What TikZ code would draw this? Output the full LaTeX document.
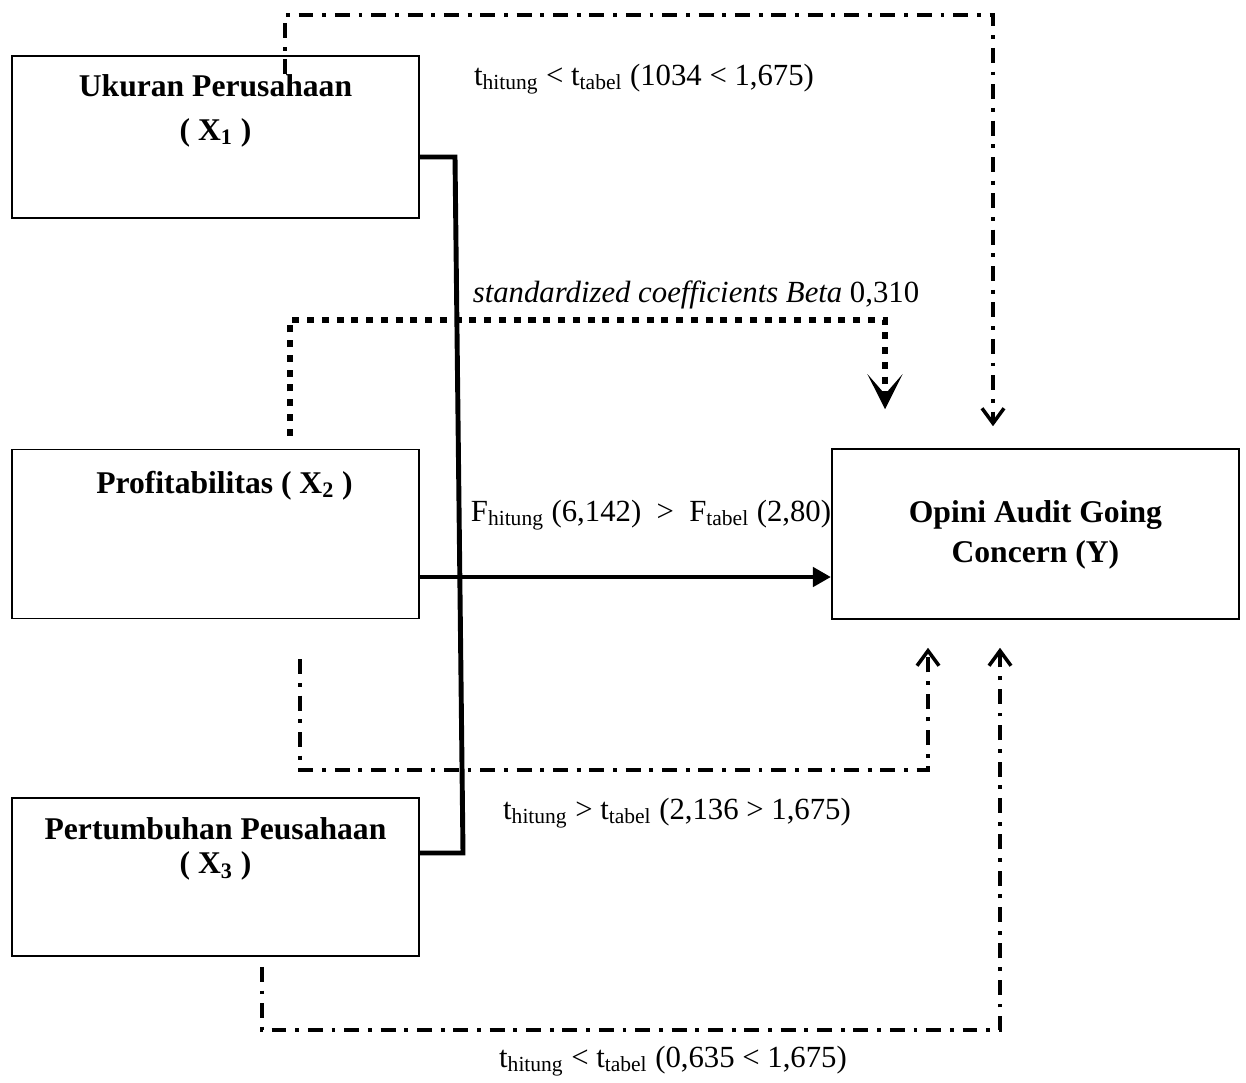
\documentclass[tikz,border=0pt]{standalone}
\usepackage{fontspec}
\setmainfont{Liberation Serif}
\usetikzlibrary{arrows.meta,positioning,calc}

\tikzset{
  varbox/.style={draw, line width=0.9pt, rectangle, minimum width=8.15cm, inner sep=0pt},
  boxtext/.style={font=\fontsize{18}{20.4}\selectfont\bfseries, align=center, inner sep=0pt},
  testlabel/.style={font=\fontsize{17.5}{20.4}\selectfont, inner sep=0pt, anchor=base},
  mainline/.style={line width=2.8pt},
  dashdot/.style={line width=2pt, dash pattern=on 8.5pt off 5pt on 2.2pt off 5pt,
    -{Straight Barb[length=0.3cm, width=0.44cm, line width=2pt]}},
  dotline/.style={line width=3.8pt, dash pattern=on 4pt off 4.4pt,
    -{Stealth[length=0.7cm, width=0.7cm, inset=0.4cm]}}
}

\begin{document}
\begin{tikzpicture}[x=0.02cm, y=-0.02cm]
  \useasboundingbox (0,0) rectangle (1246,1082);

  % boxes
  \node[varbox, minimum height=3.24cm] (x1) at (215.5,137) {};
  \node[varbox, minimum height=3.38cm, below=4.6cm of x1] (x2) {};
  \node[varbox, minimum height=3.16cm, below=3.56cm of x2] (x3) {};
  \node[varbox, minimum height=3.4cm, right=8.22cm of x2] (y) {};

  \node[boxtext, below=0.38cm of x1.north, font=\fontsize{18}{25}\selectfont\bfseries] (x1t) {Ukuran Perusahaan\\( X\textsubscript{1} )};
  \node[boxtext, below=0.44cm of x2.north, xshift=0.18cm] (x2t) {Profitabilitas ( X\textsubscript{2} )};
  \node[boxtext, below=0.4cm of x3.north, font=\fontsize{18}{19.5}\selectfont\bfseries] (x3t) {Pertumbuhan Peusahaan\\( X\textsubscript{3} )};
  \node[boxtext, below=1.04cm of y.north, font=\fontsize{18}{22.7}\selectfont\bfseries] (yt) {Opini Audit Going\\Concern (Y)};

  % turning points
  \coordinate (jt) at (455,157);
  \coordinate (jb) at (463,853);
  \coordinate (fa) at (0,577);
  \coordinate (b1) at (290,320);
  \coordinate (b2) at (885,320);
  \coordinate (t1) at (285,15);
  \coordinate (t2) at (993,15);
  \coordinate (p1) at (300,770);
  \coordinate (p2) at (928,770);
  \coordinate (q1) at (262,1030);
  \coordinate (q2) at (1000,1030);

  % simultaneous test
  \draw[mainline] (x1.east |- jt) -- (jt) -- (jb) -- (x3.east |- jb);
  \draw[mainline, -{Triangle[length=0.36cm, width=0.38cm]}] (x2.east |- fa) -- (y.west |- fa);

  % partial tests
  \draw[dotline, shorten <=0.26cm, shorten >=0.78cm] (b1 |- x2.north) -- (b1) -- (b2) -- (b2 |- y.north);
  \draw[dashdot, shorten <=-0.38cm, shorten >=0.44cm] (t1 |- x1.north) -- (t1) -- (t2) -- (t2 |- y.north);
  \draw[dashdot, shorten <=0.8cm, shorten >=0.56cm] (p1 |- x2.south) -- (p1) -- (p2) -- (p2 |- y.south);
  \draw[dashdot, shorten <=0.2cm, shorten >=0.56cm] (q1 |- x3.south) -- (q1) -- (q2) -- (q2 |- y.south);

  % labels
  \node[testlabel] (lt1) at (644,85) {t\textsubscript{hitung} < t\textsubscript{tabel} (1034 < 1,675)};
  \node[testlabel] (lbeta) at (696,302) {\itshape standardized coefficients Beta \upshape 0,310};
  \node[testlabel] (lf) at (651,521) {F\textsubscript{hitung} (6,142)\ \ >\ \ F\textsubscript{tabel} (2,80)};
  \node[testlabel] (lt2) at (677,819) {t\textsubscript{hitung} > t\textsubscript{tabel} (2,136 > 1,675)};
  \node[testlabel] (lt3) at (673,1067) {t\textsubscript{hitung} < t\textsubscript{tabel} (0,635 < 1,675)};
\end{tikzpicture}
\end{document}
